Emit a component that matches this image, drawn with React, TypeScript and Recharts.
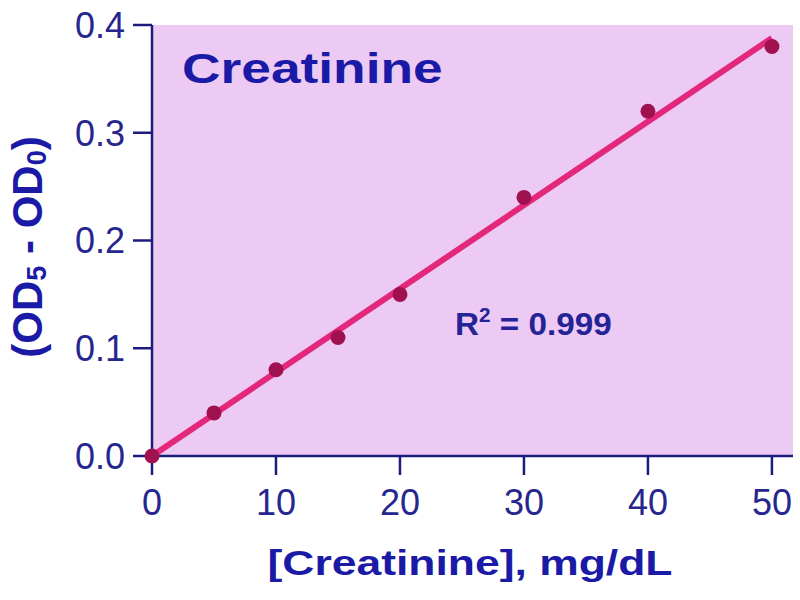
import { ComposedChart, Line, Scatter, XAxis, YAxis, CartesianGrid } from "recharts";

const concentrations = [0, 5, 10, 15, 20, 30, 40, 50];
const odValues = [0, 0.04, 0.08, 0.11, 0.15, 0.24, 0.32, 0.38];
const fitX = [0, 50];
const fitY = [0, 0.388];
const xTicks = [0, 10, 20, 30, 40, 50];
const yTicks = [0, 0.1, 0.2, 0.3, 0.4];

const points = concentrations.map((x, i) => ({ x, y: odValues[i] }));
const fitLine = fitX.map((x, i) => ({ x, y: fitY[i] }));

const FONT = '"Liberation Sans", Arial, sans-serif';
const AXIS_COLOR = "#1c1c7e";
const TICK_COLOR = "#26268e";
const LABEL_COLOR = "#1a1aa6";
const BG = "#EDCAF3";
const FIT_COLOR = "#e3287c";
const DOT_COLOR = "#a0124f";

export default function App() {
  return (
    <div style={{ position: "absolute", left: 0, top: 0, width: 800, height: 600, background: "#fff" }}>
      <ComposedChart width={800} height={600} margin={{ top: 25, right: 7, bottom: 0, left: 0 }}>
        <CartesianGrid fill={BG} stroke="none" horizontal={false} vertical={false} />
        <XAxis
          type="number"
          dataKey="x"
          domain={[0, 51.7]}
          ticks={xTicks}
          height={144}
          tickSize={19}
          tickMargin={14}
          stroke={AXIS_COLOR}
          strokeWidth={2.5}
          tick={{ fontSize: 36, fill: TICK_COLOR, fontFamily: FONT }}
        />
        <YAxis
          type="number"
          dataKey="y"
          domain={[0, 0.4]}
          ticks={yTicks}
          width={152}
          tickSize={19}
          tickMargin={8}
          stroke={AXIS_COLOR}
          strokeWidth={2.5}
          tickFormatter={(v) => Number(v).toFixed(1)}
          tick={{ fontSize: 36, fill: TICK_COLOR, fontFamily: FONT }}
        />
        <Line
          data={fitLine}
          dataKey="y"
          type="linear"
          stroke={FIT_COLOR}
          strokeWidth={6}
          dot={false}
          activeDot={false}
          isAnimationActive={false}
        />
        <Scatter
          data={points}
          dataKey="y"
          fill={DOT_COLOR}
          isAnimationActive={false}
          shape={(p: any) => <circle cx={p.cx} cy={p.cy} r={7.5} fill={DOT_COLOR} />}
        />
      </ComposedChart>
      <svg
        width={800}
        height={600}
        style={{ position: "absolute", left: 0, top: 0, pointerEvents: "none" }}
        fontFamily={FONT}
        fontWeight="bold"
      >
        <text transform="translate(182,83) scale(1.24,1)" fontSize={43} fill={LABEL_COLOR}>
          Creatinine
        </text>
        <text transform="translate(455,335) scale(1.04,1)" fontSize={32} fill="#242496">
          R<tspan fontSize={20} dy={-13}>2</tspan>
          <tspan dy={13}> = 0.999</tspan>
        </text>
        <text transform="translate(470,575) scale(1.27,1)" fontSize={35} fill={LABEL_COLOR} textAnchor="middle">
          [Creatinine], mg/dL
        </text>
        <text transform="translate(42,247) rotate(-90)" fontSize={42} fill={LABEL_COLOR} textAnchor="middle">
          (OD<tspan fontSize={27} dy={4}>5</tspan>
          <tspan dy={-4}> - OD</tspan>
          <tspan fontSize={27} dy={4}>0</tspan>
          <tspan dy={-4}>)</tspan>
        </text>
      </svg>
    </div>
  );
}
